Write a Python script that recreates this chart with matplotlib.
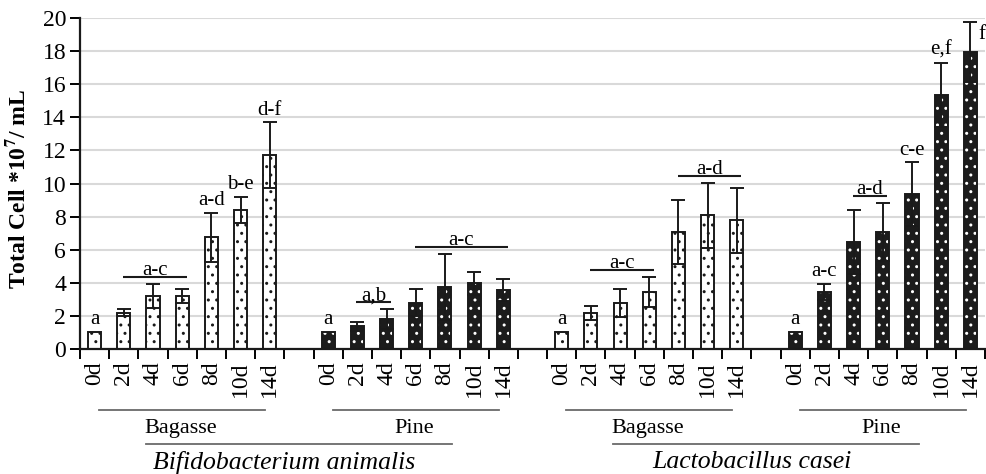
import numpy as np
import matplotlib
matplotlib.use("Agg")
import matplotlib.pyplot as plt

plt.rcParams['font.family'] = ['Liberation Serif', 'DejaVu Serif']
plt.rcParams['mathtext.fontset'] = 'stix'
plt.rcParams['hatch.linewidth'] = 1.0

# ---------------- data ----------------
days = ['0d', '2d', '4d', '6d', '8d', '10d', '14d']

bif_bag_vals = [1.05, 2.2, 3.2, 3.2, 6.75, 8.4, 11.7]
bif_bag_err = [0.0, 0.2, 0.72, 0.4, 1.47, 0.8, 2.0]
bif_pine_vals = [1.05, 1.38, 1.8, 2.8, 3.75, 3.96, 3.56]
bif_pine_err = [0.0, 0.28, 0.6, 0.8, 1.97, 0.7, 0.67]
lac_bag_vals = [1.05, 2.18, 2.8, 3.43, 7.07, 8.08, 7.77]
lac_bag_err = [0.0, 0.42, 0.84, 0.92, 1.95, 1.95, 1.95]
lac_pine_vals = [1.05, 3.44, 6.45, 7.07, 9.35, 15.35, 17.95]
lac_pine_err = [0.0, 0.5, 1.93, 1.73, 1.93, 1.95, 1.83]

bif_bag_letters = ['a', '', '', '', 'a-d', 'b-e', 'd-f']
bif_pine_letters = ['a', '', '', '', '', '', '']
lac_bag_letters = ['a', '', '', '', '', '', '']
lac_pine_letters = ['a', 'a-c', '', '', 'c-e', 'e,f', 'f']

bif_bag_brackets = [(1, 3, 'a-c')]
bif_pine_brackets = [(1, 2, 'a,b'), (3, 6, 'a-c')]
lac_bag_brackets = [(1, 3, 'a-c'), (4, 6, 'a-d')]
lac_pine_brackets = [(2, 3, 'a-d')]

substrates = ['Bagasse', 'Pine', 'Bagasse', 'Pine']
species = ['Bifidobacterium animalis', 'Lactobacillus casei']

groups = [
    (bif_bag_vals, bif_bag_err, bif_bag_letters, bif_bag_brackets, 'white'),
    (bif_pine_vals, bif_pine_err, bif_pine_letters, bif_pine_brackets, 'black'),
    (lac_bag_vals, lac_bag_err, lac_bag_letters, lac_bag_brackets, 'white'),
    (lac_pine_vals, lac_pine_err, lac_pine_letters, lac_pine_brackets, 'black'),
]

# ---------------- figure ----------------
W, H = 987, 474
fig = plt.figure(figsize=(W / 100, H / 100), dpi=100)
ax = fig.add_axes([80 / W, (H - 349) / H, 905 / W, 331 / H])

n_per = len(days)
stride = n_per + 1
bw = 0.45
tick_pos = []
tick_lab = []
trans = ax.get_xaxis_transform()
FS = 15
TFS = 17

for g, (vals, err, letters, brackets, style) in enumerate(groups):
    x = g * stride + np.arange(n_per)
    vals = np.array(vals)
    err = np.array(err)
    if style == 'white':
        ax.bar(x, vals, bw, color='white', edgecolor='#1a1a1a', hatch='..',
               linewidth=1.4, zorder=2)
    else:
        ax.bar(x, vals, bw, color='#1c1c1c', edgecolor='white', hatch='..',
               linewidth=0, zorder=2)
        ax.bar(x, vals, bw, fill=False, edgecolor='#1a1a1a', linewidth=1.4, zorder=2.1)
    m = err > 0
    ax.errorbar(x[m], vals[m], yerr=err[m], fmt='none', ecolor='#1a1a1a',
                elinewidth=1.4, capsize=5, capthick=1.4, zorder=3)
    tops = vals + err
    for i, lab in enumerate(letters):
        if not lab:
            continue
        if g == len(groups) - 1 and i == n_per - 1:
            ax.text(x[i] + 0.27, tops[i] - 0.8, lab, fontsize=FS, ha='left',
                    va='center', clip_on=False)
        else:
            ax.annotate(lab, (x[i], tops[i]), xytext=(0, 5.5),
                        textcoords='offset points', ha='center', va='baseline',
                        fontsize=FS, annotation_clip=False)
    for (i0, i1, lab) in brackets:
        yline = tops[i0:i1 + 1].max() + 0.45
        xa = x[i0] - 0.03
        xb = x[i1] + 0.15
        ax.plot([xa, xb], [yline, yline], color='#1a1a1a', lw=1.5, zorder=3,
                solid_capstyle='butt')
        ax.text((xa + xb) / 2, yline + 0.1, lab, fontsize=FS, ha='center',
                va='baseline')
    tick_pos.extend(x)
    tick_lab.extend(days)
    gc = x.mean()
    ax.plot([gc - 2.85, gc + 2.85], [-0.184, -0.184], transform=trans,
            color='#6a6a6a', lw=1.3, clip_on=False)
    ax.text(gc - 0.05, -0.239, substrates[g], transform=trans, fontsize=16,
            ha='center', va='center')

for s in range(2):
    c = (2 * s * stride + 3 + (2 * s + 1) * stride + 3) / 2
    ax.plot([c - 5.25, c + 5.25], [-0.288, -0.288], transform=trans,
            color='#6a6a6a', lw=1.3, clip_on=False)
    ax.text(c - 0.5, -0.342, species[s], transform=trans, fontsize=18.5,
            style='italic', ha='center', va='center')

n_slots = len(groups) * stride - 1
ax.set_xlim(-0.5, n_slots - 0.5)
ax.set_ylim(0, 20)
ax.set_yticks(np.arange(0, 21, 2))
ax.tick_params(axis='y', labelsize=TFS, length=7, width=1.4, pad=3, direction='out')
ax.set_xticks(tick_pos)
ax.set_xticklabels(tick_lab, rotation=90, fontsize=TFS)
ax.tick_params(axis='x', which='major', length=0, pad=9)
ax.set_xticks(np.arange(-0.5, n_slots, 1.0), minor=True)
ax.tick_params(axis='x', which='minor', length=7, width=1.4, direction='out')

ax.yaxis.grid(True, color='#d9d9d9', lw=1.5)
ax.set_axisbelow(True)
for sp in ['top', 'right']:
    ax.spines[sp].set_visible(False)
for sp in ['left', 'bottom']:
    ax.spines[sp].set_linewidth(1.6)
    ax.spines[sp].set_color('#1a1a1a')

fig.text(18 / W, 1 - 189 / H, r'Total Cell *10$^{\mathbf{7}}$/ mL', rotation=90,
         fontsize=17, fontweight='bold', ha='center', va='center')

fig.savefig('out.png', dpi=100)
